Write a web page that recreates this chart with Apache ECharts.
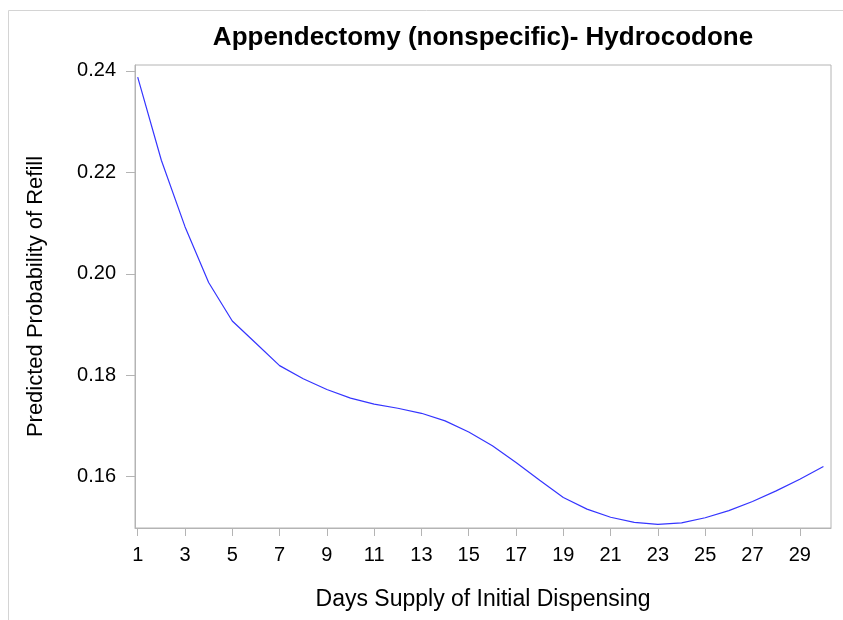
<!DOCTYPE html>
<html>
<head>
<meta charset="utf-8">
<script src="https://cdn.jsdelivr.net/npm/echarts@6/dist/echarts.min.js"></script>
<style>
html,body{margin:0;padding:0;background:#fff;}
#chart{width:843px;height:620px;}
</style>
</head>
<body>
<div id="chart"></div>
<script>
var days = [1,2,3,4,5,6,7,8,9,10,11,12,13,14,15,16,17,18,19,20,21,22,23,24,25,26,27,28,29,30];
var probRefill = [0.2388,0.2224,0.2093,0.1983,0.1907,0.1863,0.1819,0.1793,0.1772,0.1755,0.1743,0.1735,0.1725,0.1710,0.1688,0.1661,0.1628,0.1593,0.1559,0.1536,0.1520,0.1510,0.1506,0.1509,0.1519,0.1533,0.1551,0.1572,0.1595,0.1620];
var xTicks = [1,3,5,7,9,11,13,15,17,19,21,23,25,27,29];
var yTicks = [0.16,0.18,0.20,0.22,0.24];
var titleText = 'Appendectomy (nonspecific)- Hydrocodone';
var xTitle = 'Days Supply of Initial Dispensing';
var yTitle = 'Predicted Probability of Refill';

var points = days.map(function(d, i){ return [d, probRefill[i]]; });
var FONT = '"Liberation Sans", Arial, sans-serif';
var chart = echarts.init(document.getElementById('chart'), null, {renderer: 'canvas'});
chart.setOption({
  animation: false,
  backgroundColor: '#ffffff',
  graphic: [{
    type: 'rect', left: 6, top: 8, silent: true,
    shape: {width: 900, height: 700},
    style: {fill: 'none', stroke: '#d4d4d4', lineWidth: 1}
  }],
  title: {
    text: titleText,
    left: 483, top: 25, textAlign: 'center', padding: 0,
    textStyle: {fontFamily: FONT, fontSize: 26, fontWeight: 'bold', color: '#000'}
  },
  grid: {
    left: 135, top: 65, width: 696, height: 463,
    show: true, borderColor: '#b4b4b4', borderWidth: 1, containLabel: false
  },
  xAxis: {
    type: 'value', min: 0.886, max: 30.32,
    name: xTitle, nameLocation: 'middle', nameGap: 60,
    nameTextStyle: {fontFamily: FONT, fontSize: 23, color: '#000'},
    axisLine: {show: true, lineStyle: {color: '#b4b4b4'}},
    axisTick: {show: true, length: 8, lineStyle: {color: '#b4b4b4'}, customValues: xTicks},
    axisLabel: {customValues: xTicks, margin: 17, fontFamily: FONT, fontSize: 20, color: '#000'},
    splitLine: {show: false}
  },
  yAxis: {
    type: 'value', min: 0.14988, max: 0.24118,
    name: yTitle, nameLocation: 'middle', nameGap: 88, nameRotate: 90,
    nameTextStyle: {fontFamily: FONT, fontSize: 22, color: '#000'},
    axisLine: {show: true, lineStyle: {color: '#b4b4b4'}},
    axisTick: {show: true, length: 9, lineStyle: {color: '#b4b4b4'}, customValues: yTicks},
    axisLabel: {customValues: yTicks, margin: 19, fontFamily: FONT, fontSize: 20, color: '#000',
      formatter: function(v){ return v.toFixed(2); }},
    splitLine: {show: false}
  },
  series: [{
    type: 'line', data: points, showSymbol: false, smooth: false,
    lineStyle: {color: '#3535ff', width: 1.2}
  }]
});
</script>
</body>
</html>
